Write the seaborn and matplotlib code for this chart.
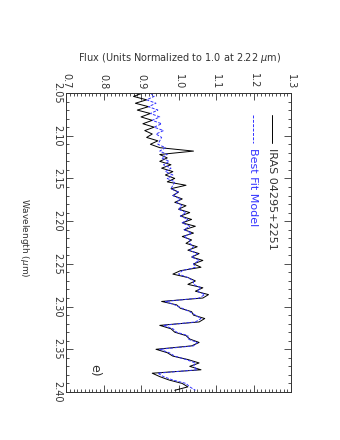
import numpy as np
import pandas as pd
import matplotlib.pyplot as plt
import seaborn as sns
from matplotlib.ticker import MultipleLocator, FormatStrFormatter

sns.set_style("white")
plt.rcParams['font.family'] = ['DejaVu Sans']

# Spectrum (wavelength in micron, flux normalised at 2.22)
wavelength = [
    2.050, 2.054, 2.058, 2.062, 2.066, 2.070, 2.074, 2.078, 2.082, 2.086,
    2.090, 2.094, 2.098, 2.102, 2.106, 2.110, 2.114, 2.118, 2.122, 2.126,
    2.130, 2.134, 2.138, 2.142, 2.146, 2.150, 2.154, 2.158, 2.162, 2.166,
    2.170, 2.174, 2.178, 2.182, 2.186, 2.190, 2.194, 2.198, 2.202, 2.206,
    2.210, 2.214, 2.218, 2.222, 2.226, 2.230, 2.234, 2.238, 2.242, 2.246,
    2.250, 2.254, 2.258, 2.262, 2.266, 2.270, 2.274, 2.278, 2.282, 2.286,
    2.290, 2.294, 2.298, 2.302, 2.306, 2.310, 2.314, 2.318, 2.322, 2.326,
    2.330, 2.334, 2.338, 2.342, 2.346, 2.350, 2.354, 2.358, 2.362, 2.366,
    2.370, 2.374, 2.378, 2.382, 2.386, 2.390, 2.394, 2.398,
]
observed = [
    0.905, 0.880, 0.915, 0.885, 0.920, 0.890, 0.925, 0.900, 0.930, 0.905,
    0.935, 0.910, 0.930, 0.915, 0.945, 0.925, 0.950, 1.040, 0.950, 0.970,
    0.950, 0.980, 0.955, 0.985, 0.965, 0.990, 0.970, 1.020, 0.980, 1.000,
    0.985, 1.010, 0.990, 1.020, 1.000, 1.030, 1.005, 1.035, 1.010, 1.045,
    1.015, 1.040, 1.010, 1.035, 1.020, 1.050, 1.025, 1.055, 1.035, 1.065,
    1.040, 1.060, 1.005, 0.985, 1.025, 1.045, 1.025, 1.065, 1.045, 1.080,
    1.065, 0.955, 0.995, 1.005, 1.035, 1.040, 1.070, 1.055, 0.950, 0.980,
    0.990, 1.020, 1.030, 1.055, 1.035, 0.940, 0.970, 0.985, 1.025, 1.055,
    1.030, 1.060, 0.930, 0.950, 0.975, 1.010, 1.025, 0.990,
]
model = [
    0.925, 0.935, 0.915, 0.940, 0.920, 0.945, 0.925, 0.950, 0.930, 0.955,
    0.935, 0.960, 0.940, 0.955, 0.950, 0.945, 0.965, 0.950, 0.970, 0.955,
    0.975, 0.960, 0.980, 0.965, 0.985, 0.970, 0.990, 0.985, 0.980, 1.000,
    0.985, 1.005, 0.995, 1.010, 1.000, 1.020, 1.005, 1.025, 1.010, 1.030,
    1.015, 1.035, 1.015, 1.030, 1.030, 1.040, 1.030, 1.050, 1.035, 1.055,
    1.040, 1.045, 1.010, 1.000, 1.025, 1.040, 1.040, 1.060, 1.050, 1.070,
    1.055, 0.965, 0.990, 1.010, 1.030, 1.045, 1.060, 1.045, 0.960, 0.985,
    0.995, 1.025, 1.025, 1.050, 1.040, 0.950, 0.975, 0.990, 1.020, 1.045,
    1.040, 1.050, 0.945, 0.960, 0.985, 1.020, 1.030, 1.045,
]

df = pd.DataFrame({"Wavelength": wavelength, "Observed": observed, "Model": model})

fig = plt.figure(figsize=(3.4, 4.4), dpi=100)
ax = fig.add_axes([66 / 340, 1 - 392 / 440, 225 / 340, 299 / 440])

sns.lineplot(data=df, x="Observed", y="Wavelength", orient="y", color="black",
             lw=0.7, ax=ax)
sns.lineplot(data=df, x="Model", y="Wavelength", orient="y", color="#3333ff",
             lw=0.7, ax=ax, linestyle=(0, (3, 1.5)))

ax.set_xlim(0.7, 1.3)
ax.set_ylim(2.40, 2.05)
ax.xaxis.set_major_locator(MultipleLocator(0.1))
ax.xaxis.set_minor_locator(MultipleLocator(0.01))
ax.yaxis.set_major_locator(MultipleLocator(0.05))
ax.yaxis.set_minor_locator(MultipleLocator(0.01))
ax.xaxis.set_major_formatter(FormatStrFormatter("%.1f"))
ax.yaxis.set_major_formatter(FormatStrFormatter("%.2f"))
ax.tick_params(which="both", direction="in", top=True, bottom=True, left=True,
               right=True, labeltop=True, labelbottom=False, color="#333333",
               labelcolor="#333333", width=0.6)
ax.tick_params(which="major", length=5, labelsize=7, pad=3)
ax.tick_params(which="minor", length=2.5)
for lbl in ax.get_xticklabels():
    lbl.set_rotation(270)
for lbl in ax.get_yticklabels():
    lbl.set_rotation(270)
    lbl.set_va("center")
ax.set_xlabel("")
ax.set_ylabel("")
for sp in ax.spines.values():
    sp.set_linewidth(0.7)
    sp.set_color("#333333")

fig.text(0.529, 1 - 58 / 440, "Flux (Units Normalized to 1.0 at 2.22 $\\mu$m)",
         ha="center", va="center", fontsize=7, color="#333333")
fig.text(24 / 340, 1 - 238 / 440, "Wavelength ($\\mu$m)", rotation=270,
         ha="center", va="center", fontsize=6.5, color="#333333")

# legend drawn by hand with rotated text
ax.plot([0.916, 0.916], [0.926, 0.833], color="black", lw=0.7,
        transform=ax.transAxes)
ax.text(0.916, 0.816, "IRAS 04295+2251", rotation=270, ha="center", va="top",
        fontsize=8, color="#333333", transform=ax.transAxes)
ax.plot([0.831, 0.831], [0.926, 0.833], color="#3333ff", lw=0.7,
        linestyle=(0, (3, 1.5)), transform=ax.transAxes)
ax.text(0.831, 0.816, "Best Fit Model", rotation=270, ha="center", va="top",
        fontsize=8, color="#3333ff", transform=ax.transAxes)
ax.text(0.129, 0.074, "e)", rotation=270, ha="center", va="center",
        fontsize=9, color="#333333", transform=ax.transAxes)

fig.savefig("out.png", dpi=100)
